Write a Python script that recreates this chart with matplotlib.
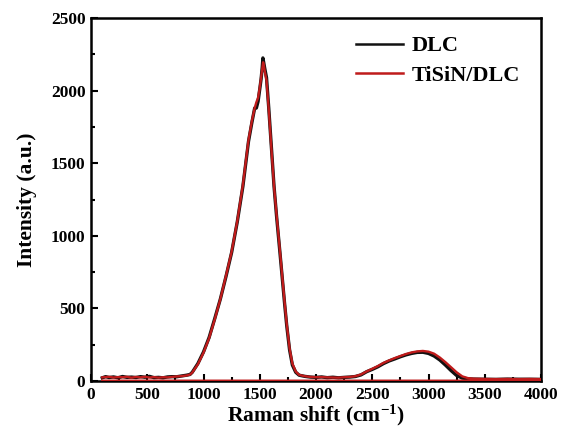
import matplotlib
matplotlib.use("Agg")
import matplotlib.pyplot as plt
from matplotlib.ticker import MultipleLocator

# ---- data ----
dlc_x = [100, 130, 160, 200, 240, 280, 320, 360, 400, 440, 480, 520, 560, 600, 640,
         680, 720, 760, 800, 850, 880, 900, 950, 1000, 1050, 1100, 1150, 1200, 1250, 1300,
         1350, 1400, 1430, 1455, 1470, 1485, 1500, 1512, 1522, 1528, 1535, 1545, 1560,
         1580, 1600, 1627, 1650, 1680, 1700, 1720, 1740, 1765, 1790, 1820, 1850, 1900,
         1950, 2000, 2050, 2100, 2150, 2200, 2250, 2300, 2350, 2400, 2450, 2500, 2550,
         2600, 2650, 2700, 2750, 2800, 2850, 2900, 2950, 3000, 3050, 3100, 3150, 3200,
         3250, 3300, 3350, 3400, 3500, 3600, 3700, 3800, 3900, 4000]
dlc_y = [22, 30, 24, 28, 22, 31, 25, 27, 24, 30, 26, 32, 23, 25, 22,
         28, 30, 29, 34, 40, 45, 60, 120, 200, 300, 430, 565, 720, 885, 1095,
         1340, 1650, 1780, 1880, 1880, 1925, 2010, 2080, 2160, 2225, 2195, 2150, 2090,
         1880, 1650, 1340, 1130, 880, 710, 540, 380, 215, 110, 60, 40, 32,
         27, 25, 28, 23, 26, 22, 25, 27, 31, 42, 64, 80, 98,
         120, 138, 152, 167, 180, 190, 197, 198, 190, 172, 145, 110, 72,
         38, 20, 15, 13, 12, 11, 13, 12, 12, 11]

tisin_x = [100, 130, 160, 200, 240, 280, 320, 360, 400, 440, 480, 520, 560, 600, 640,
           680, 720, 760, 800, 850, 880, 900, 950, 1000, 1050, 1100, 1150, 1200, 1250, 1300,
           1350, 1400, 1430, 1455, 1470, 1485, 1500, 1512, 1522, 1530, 1537, 1545, 1560,
           1580, 1600, 1627, 1650, 1680, 1700, 1720, 1740, 1765, 1790, 1820, 1850, 1900,
           1950, 2000, 2050, 2100, 2150, 2200, 2250, 2300, 2350, 2400, 2450, 2500, 2550,
           2600, 2650, 2700, 2750, 2800, 2850, 2900, 2950, 3000, 3050, 3100, 3150, 3200,
           3250, 3300, 3350, 3400, 3500, 3600, 3700, 3800, 3900, 4000, 4000, 100]
tisin_y = [25, 27, 29, 24, 27, 26, 29, 23, 28, 25, 29, 24, 27, 23, 26,
           25, 28, 31, 33, 38, 44, 58, 115, 195, 295, 425, 565, 725, 890, 1100,
           1350, 1660, 1790, 1880, 1920, 1950, 2020, 2090, 2150, 2195, 2175, 2130, 2070,
           1870, 1640, 1340, 1140, 890, 720, 550, 390, 225, 120, 65, 42, 33,
           28, 26, 27, 25, 24, 23, 26, 28, 33, 45, 66, 84, 103,
           125, 142, 158, 172, 186, 197, 204, 207, 202, 188, 162, 130, 95,
           60, 32, 20, 16, 14, 13, 14, 13, 14, 13, 2, 2]

series_labels = ["DLC", "TiSiN/DLC"]
x_ticks = [0, 500, 1000, 1500, 2000, 2500, 3000, 3500, 4000]
y_ticks = [0, 500, 1000, 1500, 2000, 2500]

plt.rcParams['font.family'] = ['Liberation Serif', 'DejaVu Serif']
plt.rcParams['font.weight'] = 'bold'
plt.rcParams['axes.labelweight'] = 'bold'
plt.rcParams['mathtext.fontset'] = 'custom'
plt.rcParams['mathtext.rm'] = 'Liberation Serif:bold'
plt.rcParams['mathtext.bf'] = 'Liberation Serif:bold'
plt.rcParams['mathtext.it'] = 'Liberation Serif:bold'

fig = plt.figure(figsize=(5.63, 4.43), dpi=100)
ax = fig.add_axes([91/563, 62/443, 450/563, 363/443])

ax.plot(dlc_x, dlc_y, color='#111111', lw=2.4, label=series_labels[0], zorder=2)
ax.plot(tisin_x, tisin_y, color='#bf1b1b', lw=1.7, label=series_labels[1], zorder=3)

ax.set_xlim(0, 4000)
ax.set_ylim(0, 2500)
ax.set_xticks(x_ticks)
ax.set_yticks(y_ticks)
ax.xaxis.set_minor_locator(MultipleLocator(250))
ax.yaxis.set_minor_locator(MultipleLocator(250))
ax.tick_params(which='both', direction='in', top=False, right=False,
               labelsize=12.5, width=1.5, pad=4)
ax.tick_params(which='major', length=5)
ax.tick_params(which='minor', length=3)
for lab in ax.get_xticklabels() + ax.get_yticklabels():
    lab.set_fontweight('bold')
for sp in ax.spines.values():
    sp.set_linewidth(1.8)

ax.set_xlabel('Raman shift (cm$^{-1}$)', fontsize=15.5, fontweight='bold', labelpad=0)
ax.set_ylabel('Intensity (a.u.)', fontsize=15.5, fontweight='bold', labelpad=10)

leg = ax.legend(loc='upper right', frameon=False, handlelength=2.1,
                handletextpad=0.4, labelspacing=0.4, borderaxespad=0.2,
                borderpad=0.6, bbox_to_anchor=(0.993, 1.0),
                prop={'weight': 'bold', 'size': 16})
for h in leg.get_lines():
    h.set_linewidth(1.8)

fig.savefig('out.png', dpi=100)
